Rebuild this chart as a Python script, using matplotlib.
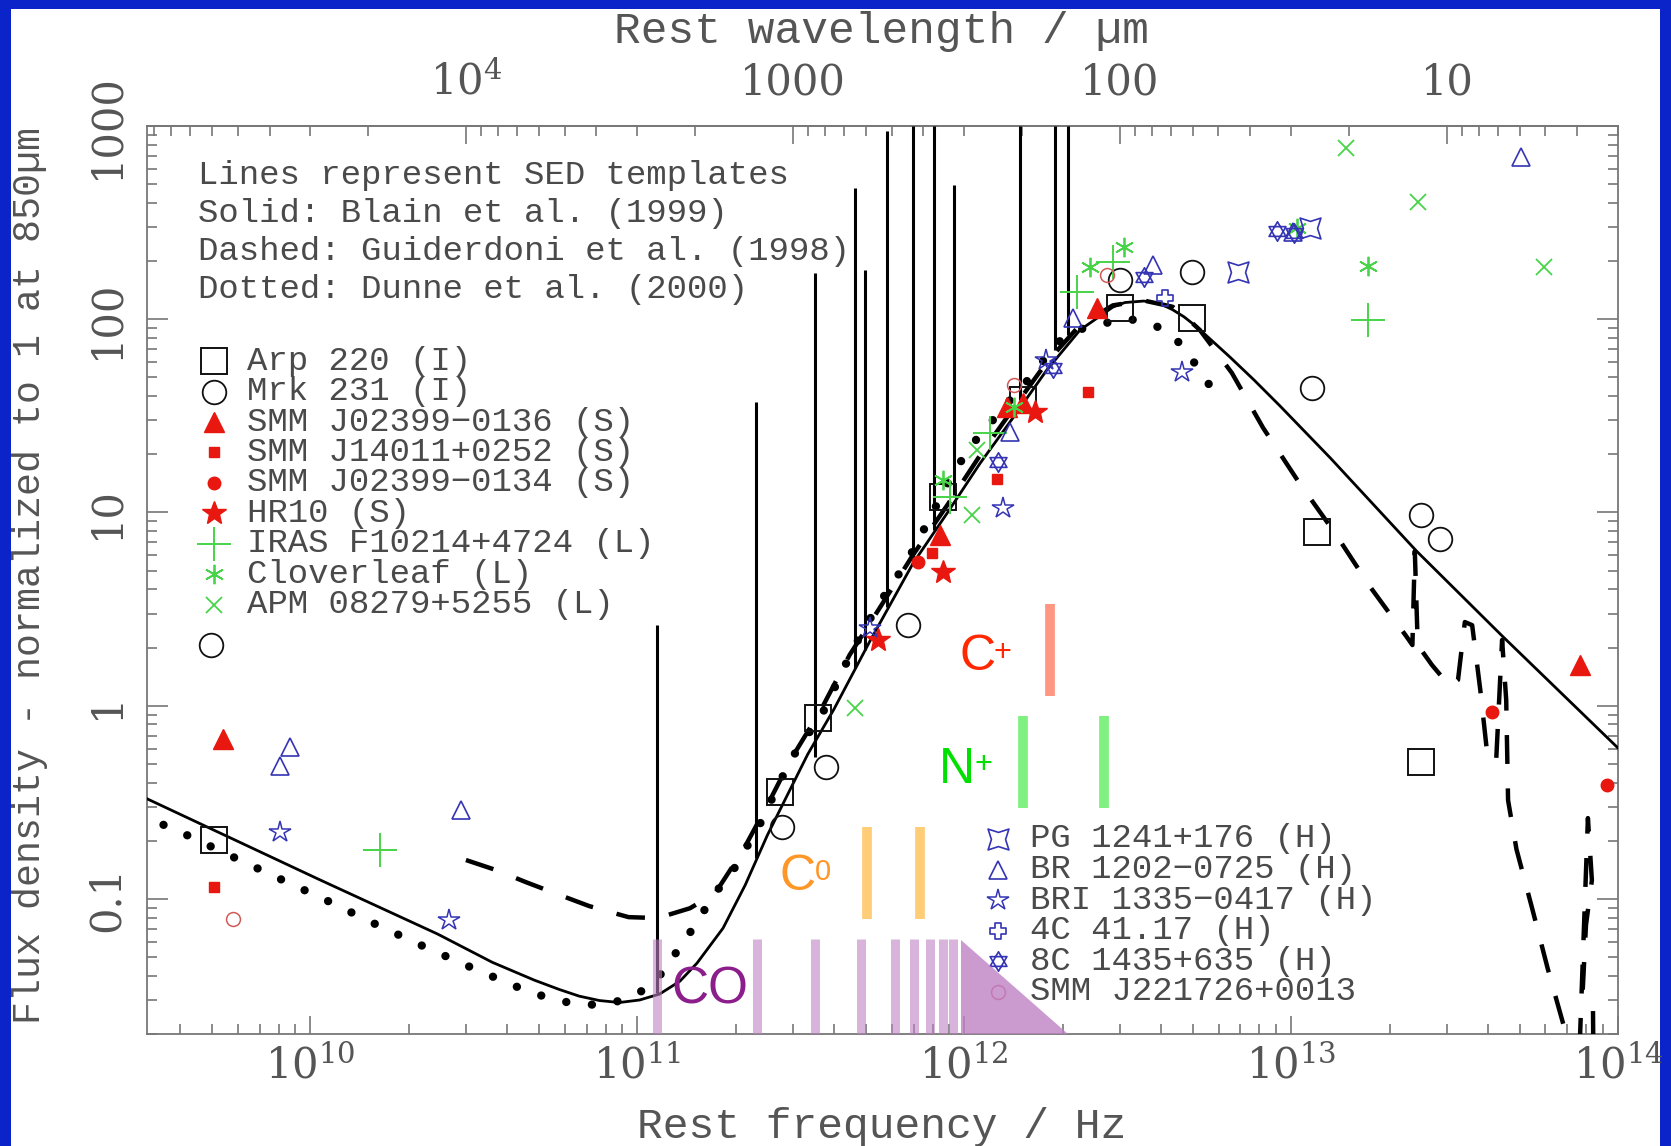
import numpy as np
import matplotlib
matplotlib.use("Agg")
import matplotlib.pyplot as plt
from matplotlib.path import Path
from matplotlib.patches import Rectangle, Polygon
from matplotlib.ticker import NullFormatter

plt.rcParams['font.family'] = ['DejaVu Serif']
plt.rcParams['mathtext.fontset'] = 'dejavuserif'
MONO = ['Liberation Mono', 'DejaVu Sans Mono']
SANS = ['Liberation Sans', 'DejaVu Sans']

C_UM_HZ = 2.998e14  # c in micron * Hz

# ---- SED templates: rest frequency [Hz], flux normalised to 1 at 850um ----
solid_nu = [3.0e9, 1.064e10, 2.45e10, 3.6e10, 4.84e10, 5.77e10, 6.64e10, 7.66e10,
            8.81e10, 1.017e11, 1.17e11, 1.349e11, 1.522e11, 1.829e11, 2.138e11, 2.50e11,
            2.875e11, 3.32e11, 3.996e11, 5.14e11, 6.97e11, 8.87e11, 1.119e12, 1.416e12,
            1.789e12, 2.26e12, 2.85e12, 3.1e12, 3.54e12, 3.95e12, 4.34e12, 4.7e12,
            5.15e12, 6.50e12, 7.7e12, 9.23e12, 1.316e13, 2.42e13, 4.43e13, 1.0e14]
solid_f = [0.344, 0.126, 0.0658, 0.0470, 0.0380, 0.0340, 0.0314, 0.0298,
           0.0291, 0.0300, 0.0322, 0.0375, 0.0465, 0.0706, 0.118, 0.214,
           0.344, 0.56, 0.96, 2.15, 5.45, 9.93, 18.0, 31.2,
           54.6, 87.9, 115.6, 122, 124.2, 121, 112, 103,
           91.2, 63.7, 48.5, 35.7, 19.2, 6.31, 2.29, 0.604]

dashed_nu = [2.99e10, 3.70e10, 4.57e10, 5.77e10, 7.13e10, 9.40e10, 1.154e11, 1.449e11,
             1.730e11, 2.107e11, 2.50e11, 2.94e11, 3.64e11, 4.46e11, 5.51e11, 6.97e11,
             8.87e11, 1.119e12, 1.416e12, 1.789e12, 2.26e12, 2.85e12, 3.54e12, 4.34e12,
             4.75e12, 5.26e12, 6.59e12, 8.21e12, 1.054e13, 1.362e13, 1.747e13, 2.25e13,
             2.35e13, 2.39e13, 2.44e13, 2.70e13, 3.06e13, 3.24e13, 3.40e13, 3.58e13,
             3.79e13, 4.00e13, 4.24e13, 4.42e13, 4.55e13, 4.61e13, 4.89e13, 5.48e13,
             6.10e13, 7.02e13, 7.53e13, 8.09e13, 8.32e13, 7.98e13, 7.80e13, 8.38e13, 8.43e13]
dashed_f = [0.159, 0.141, 0.122, 0.105, 0.0918, 0.0805, 0.0796, 0.0895,
            0.107, 0.179, 0.306, 0.523, 0.948, 1.83, 3.20, 6.03,
            10.9, 19.8, 34.7, 60.0, 93.3, 118, 125, 116,
            103, 87.9, 52.7, 27.4, 14.4, 7.82, 4.11, 2.29,
            2.06, 6.31, 2.06, 1.62, 1.26, 1.36, 2.71, 2.61,
            1.21, 0.523, 0.523, 2.19, 1.07, 0.324, 0.181, 0.0875,
            0.0434, 0.0186, 0.0091, 0.262, 0.125, 0.0731, 0.0337, 0.0299, 0.0091]

dotted_nu = [3.0e9, 3.89e9, 5.54e9, 7.83e9, 1.116e10, 1.580e10, 2.24e10, 3.24e10,
             4.61e10, 5.65e10, 6.89e10, 8.40e10, 1.010e11, 1.162e11, 1.420e11, 1.730e11,
             1.992e11, 2.38e11, 2.94e11, 3.70e11, 4.55e11, 5.40e11, 6.67e11, 7.85e11,
             9.24e11, 1.067e12, 1.355e12, 1.595e12, 1.920e12, 2.22e12, 2.54e12, 3.15e12,
             3.83e12, 4.47e12, 4.99e12, 5.56e12, 5.96e12]
dotted_f = [0.272, 0.227, 0.171, 0.130, 0.0986, 0.0741, 0.0564, 0.0428,
            0.0333, 0.0299, 0.0282, 0.0289, 0.0325, 0.0394, 0.0634, 0.107,
            0.146, 0.247, 0.523, 0.927, 1.94, 3.24, 5.53, 9.35,
            16.0, 22.9, 36.8, 50.2, 75.3, 87.9, 93.3, 101,
            93.3, 78.0, 61.5, 47.3, 36.8]

# emission-line spikes on the solid template
spike_nu = [1.146e11, 2.31e11, 3.49e11, 4.63e11, 4.96e11, 5.80e11,
            6.97e11, 8.09e11, 9.31e11, 1.48e12, 1.89e12, 2.07e12]
spike_lo = [0.0325, 0.163, 0.54, 1.57, 1.94, 3.24, 5.54, 8.11, 12.3, 38.2, 69.3, 82.8]
spike_hi = [2.61, 37.3, 173, 478, 180, 942, 1000, 1000, 495, 1000, 1000, 1000]

# line markers: CO ladder, neutral carbon, ionised nitrogen and carbon
co_nu = [1.146e11, 2.33e11, 3.49e11, 4.82e11, 6.14e11, 7.01e11, 7.85e11, 8.61e11, 9.24e11]
co_top = 0.0619
co_wedge_nu = [9.80e11, 2.07e12]
co_wedge_top = 0.0612
ci_nu = [5.03e11, 7.31e11]
ci_range = [0.0785, 0.235]
nii_nu = [1.517e12, 2.67e12]
nii_range = [0.295, 0.883]
cii_nu = [1.826e12]
cii_range = [1.12, 3.36]

# ---- observed galaxies ----
arp220_nu = [5.07e9, 2.74e11, 3.56e11, 8.61e11, 1.517e12, 3.00e12, 4.99e12, 1.20e13, 2.50e13]
arp220_f = [0.201, 0.357, 0.863, 12.0, 38.2, 114, 101, 7.92, 0.511]
mrk231_nu = [4.95e9, 2.78e11, 3.77e11, 6.73e11, 3.00e12, 4.99e12, 1.16e13, 2.50e13, 2.85e13]
mrk231_f = [2.06, 0.235, 0.481, 2.61, 160, 175, 44.1, 9.70, 7.28]
smm0136_nu = [5.40e9, 8.43e11, 1.355e12, 1.517e12, 2.54e12, 7.64e13]
smm0136_f = [0.674, 7.64, 35.1, 36.8, 114, 1.62]
smm14011_nu = [5.07e9, 7.97e11, 1.262e12, 2.39e12]
smm14011_f = [0.115, 6.17, 14.9, 42.0]
smm0134_nu = [7.22e11, 4.11e13, 9.25e13]
smm0134_f = [5.53, 0.927, 0.388]
hr10_nu = [5.43e11, 8.61e11, 1.652e12]
hr10_f = [2.19, 4.92, 33.1]
iras_nu = [1.63e10, 9.06e11, 1.202e12, 2.22e12, 2.85e12, 1.72e13]
iras_f = [0.179, 12.0, 25.8, 138, 198, 99.1]
clover_nu = [8.61e11, 1.416e12, 2.43e12, 3.09e12, 1.04e13, 1.72e13]
clover_f = [14.7, 35.1, 186, 237, 296, 188]
apm_nu = [4.62e11, 1.057e12, 1.097e12, 1.47e13, 2.44e13, 5.92e13]
apm_f = [0.972, 9.70, 21.0, 769, 404, 186]
pg_nu = [6.88e12, 1.14e13]
pg_f = [175, 296]
br_nu = [8.64e9, 8.06e9, 2.88e10, 1.384e12, 2.15e12, 3.79e12, 1.012e13, 5.04e13]
br_f = [0.611, 0.486, 0.288, 26.1, 101, 191, 282, 692]
bri_nu = [8.06e9, 2.66e10, 5.14e11, 1.31e12, 1.774e12, 4.63e12]
bri_f = [0.222, 0.0776, 2.52, 10.5, 61.5, 53.3]
c4_nu = [4.10e12]
c4_f = [129]
c8_nu = [1.27e12, 1.868e12, 3.54e12, 9.06e12, 1.02e13]
c8_f = [18.2, 55.8, 165, 286, 279]
smm2217_nu = [5.81e9, 1.416e12, 2.74e12]
smm2217_f = [0.079, 45.6, 169]

header_lines = ["Lines represent SED templates",
                "Solid: Blain et al. (1999)",
                "Dashed: Guiderdoni et al. (1998)",
                "Dotted: Dunne et al. (2000)"]

flux_ticks = [0.1, 1, 10, 100, 1000]
flux_tick_labels = ["0.1", "1", "10", "100", "1000"]
lam_ticks = [1e4, 1000, 100, 10]
lam_tick_labels = ["$10^4$", "1000", "100", "10"]


def closed(verts):
    return Path(verts + [verts[0]], [Path.MOVETO] + [Path.LINETO] * (len(verts) - 1) + [Path.CLOSEPOLY])


concave_square = closed([(1, 1), (0, 0.68), (-1, 1), (-0.68, 0), (-1, -1), (0, -0.68), (1, -1), (0.68, 0)])
t = 0.36
greek_cross = closed([(-t, 1), (t, 1), (t, t), (1, t), (1, -t), (t, -t), (t, -1), (-t, -1),
                      (-t, -t), (-1, -t), (-1, t), (-t, t)])
tri_up = [(0, 1), (-0.866, -0.5), (0.866, -0.5), (0, 1)]
tri_dn = [(0, -1), (0.866, 0.5), (-0.866, 0.5), (0, -1)]
hexagram = Path(tri_up + tri_dn, [Path.MOVETO, Path.LINETO, Path.LINETO, Path.CLOSEPOLY] * 2)

BLACK = '#111111'
RED = '#e8170f'
GREEN = '#48d448'
BLUE = '#3434b4'
PINK = '#d05a5a'
open_ = dict(markerfacecolor='none')

upper_entries = [
    ("Arp 220 (I)", arp220_nu, arp220_f, dict(marker='s', ms=19, mec=BLACK, mew=1.4, **open_)),
    ("Mrk 231 (I)", mrk231_nu, mrk231_f, dict(marker='o', ms=17, mec=BLACK, mew=1.3, **open_)),
    ("SMM J02399−0136 (S)", smm0136_nu, smm0136_f, dict(marker='^', ms=15, mec=RED, mfc=RED)),
    ("SMM J14011+0252 (S)", smm14011_nu, smm14011_f, dict(marker='s', ms=7.5, mec=RED, mfc=RED)),
    ("SMM J02399−0134 (S)", smm0134_nu, smm0134_f, dict(marker='o', ms=9, mec=RED, mfc=RED)),
    ("HR10 (S)", hr10_nu, hr10_f, dict(marker='*', ms=18, mec=RED, mfc=RED)),
    ("IRAS F10214+4724 (L)", iras_nu, iras_f, dict(marker='+', ms=24, mec=GREEN, mew=1.4)),
    ("Cloverleaf (L)", clover_nu, clover_f, dict(marker=(6, 2, 0), ms=14, mec=GREEN, mew=1.3)),
    ("APM 08279+5255 (L)", apm_nu, apm_f, dict(marker='x', ms=11, mec=GREEN, mew=1.3)),
]
lower_entries = [
    ("PG 1241+176 (H)", pg_nu, pg_f, dict(marker=concave_square, ms=15, mec=BLUE, mew=1.2, **open_)),
    ("BR 1202−0725 (H)", br_nu, br_f, dict(marker='^', ms=13, mec=BLUE, mew=1.2, **open_)),
    ("BRI 1335−0417 (H)", bri_nu, bri_f, dict(marker='*', ms=16, mec=BLUE, mew=1.1, **open_)),
    ("4C 41.17 (H)", c4_nu, c4_f, dict(marker=greek_cross, ms=12, mec=BLUE, mew=1.2, **open_)),
    ("8C 1435+635 (H)", c8_nu, c8_f, dict(marker=hexagram, ms=14, mec=BLUE, mew=1.2, **open_)),
    ("SMM J221726+0013", smm2217_nu, smm2217_f, dict(marker='o', ms=10, mec=PINK, mew=1.1, **open_)),
]

fig = plt.figure(figsize=(16.71, 11.46), dpi=100, facecolor='#0b24c9')
fig.patches.append(Rectangle((11 / 1671, 0), 1649 / 1671, 1 - 9 / 1146, transform=fig.transFigure,
                             facecolor='white', edgecolor='none', zorder=-5))

ax = fig.add_axes([147 / 1671, 112 / 1146, 1471 / 1671, 908 / 1146])
ax.set_zorder(2)
ax.set_facecolor('none')
ax.set_xscale('log')
ax.set_yscale('log')
ax.set_xlim(10 ** 9.5, 1e14)
ax.set_ylim(0.02, 1000)
ymin = ax.get_ylim()[0]

# templates
ax.plot(solid_nu, solid_f, color='black', lw=2.0, zorder=3)
ax.vlines(spike_nu, spike_lo, spike_hi, color='black', lw=2.2, zorder=3)
ax.plot(dashed_nu, dashed_f, color='black', lw=3.2, ls=(0, (6.5, 5.5)), zorder=3)
ax.plot(dotted_nu, dotted_f, color='black', lw=6.0, ls=(0, (0.01, 3.1)),
        dash_capstyle='round', zorder=3)

# galaxies and their key
text_kw = dict(transform=ax.transAxes, color='#4a4a4a', fontsize=24.5, va='center', family=MONO)
for i, line in enumerate(header_lines):
    ax.text(0.0347, 0.946 - i * 0.042, line, **text_kw)

for i, (name, nu, f, style) in enumerate(upper_entries):
    ax.plot(nu, f, ls='none', zorder=4, **style)
    y = 0.741 - i * 0.0335
    ax.plot([0.0453], [y], transform=ax.transAxes, ls='none', clip_on=False, zorder=4, **style)
    ax.text(0.068, y, name, **text_kw)

for i, (name, nu, f, style) in enumerate(lower_entries):
    ax.plot(nu, f, ls='none', zorder=4, **style)
    y = 0.2148 - i * 0.0337
    ax.plot([0.5785], [y], transform=ax.transAxes, ls='none', clip_on=False, zorder=4, **style)
    ax.text(0.600, y, name, **text_kw)

# line bars
ax.vlines(co_nu, ymin, co_top, colors='#be82c5', lw=6.5, alpha=0.6, zorder=5)
ax.add_patch(Polygon([(co_wedge_nu[0], co_wedge_top), (co_wedge_nu[0], ymin), (co_wedge_nu[1], ymin)],
                     closed=True, facecolor='#be82c5', edgecolor='none', alpha=0.8, zorder=5))
ax.vlines(ci_nu, ci_range[0], ci_range[1], colors='#ffcd78', lw=7, zorder=5)
ax.vlines(nii_nu, nii_range[0], nii_range[1], colors='#80f080', lw=7, zorder=5)
ax.vlines(cii_nu, cii_range[0], cii_range[1], colors='#ff9682', lw=7, zorder=5)

lab_kw = dict(family=SANS, ha='center', va='center', zorder=6)
ax.text(1.67e11, 0.0337, "CO", color='#8c1e8c', fontsize=37, **lab_kw)
ax.text(3.09e11, 0.130, "C", color='#ff9628', fontsize=36, **lab_kw)
ax.text(3.70e11, 0.138, "0", color='#ff9628', fontsize=21, **lab_kw)
ax.text(9.51e11, 0.464, "N", color='#00e000', fontsize=36, **lab_kw)
ax.text(1.143e12, 0.493, "+", color='#00e000', fontsize=22, **lab_kw)
ax.text(1.097e12, 1.79, "C", color='#ff2800', fontsize=36, **lab_kw)
ax.text(1.31e12, 1.87, "+", color='#ff2800', fontsize=22, **lab_kw)

# axes styling
for sp in ax.spines.values():
    sp.set_color('#777777')
    sp.set_linewidth(1.3)
ax.set_yticks(flux_ticks, labels=flux_tick_labels)
ax.yaxis.set_minor_formatter(NullFormatter())
ax.xaxis.set_minor_formatter(NullFormatter())
ax.tick_params(which='both', direction='in', top=False, right=True,
               color='#777777', width=1.2, labelcolor='#555555')
ax.tick_params(axis='x', which='major', length=13, pad=8, labelsize=30)
ax.tick_params(axis='y', which='major', length=15, pad=14, labelsize=30)
ax.tick_params(which='minor', length=7)
for lbl in ax.get_yticklabels():
    lbl.set_rotation(90)
    lbl.set_va('center')


def nu_to_lam(x):
    return C_UM_HZ / np.clip(np.asarray(x, float), 1e-300, None)


secax = ax.secondary_xaxis('top', functions=(nu_to_lam, nu_to_lam))
secax.set_xticks(lam_ticks, labels=lam_tick_labels)
secax.xaxis.set_minor_formatter(NullFormatter())
secax.tick_params(which='both', direction='in', color='#777777', width=1.2, labelcolor='#555555')
secax.tick_params(which='major', length=13, pad=16, labelsize=30)
secax.tick_params(which='minor', length=7)
secax.spines['top'].set_color('#777777')
secax.spines['top'].set_linewidth(1.3)

fig.text(882 / 1671, 1 - 1138 / 1146, "Rest frequency / Hz", ha='center', va='baseline',
         fontsize=31, color='#555555', family=MONO)
fig.text(882 / 1671, 1 - 43 / 1146, "Rest wavelength / µm", ha='center', va='baseline',
         fontsize=32, color='#555555', family=MONO)
fig.text(30 / 1671, 0.498, "Flux density - normalized to 1 at 850µm", rotation=90,
         ha='center', va='center', fontsize=27.5, color='#555555', family=MONO)

fig.savefig("out.png", dpi=100, facecolor=fig.get_facecolor())
